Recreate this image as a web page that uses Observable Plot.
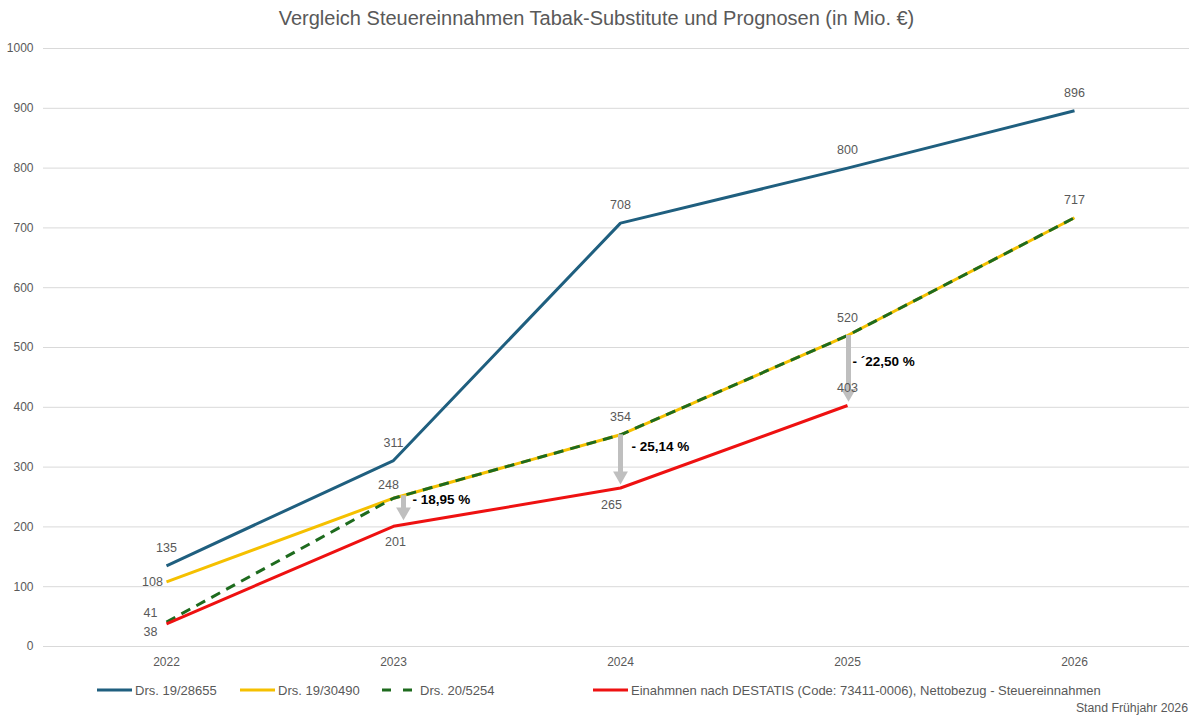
<!DOCTYPE html>
<html><head><meta charset="utf-8">
<script src="https://cdn.jsdelivr.net/npm/d3@7"></script>
<script src="https://cdn.jsdelivr.net/npm/@observablehq/plot@0.6"></script>
<style>
body{margin:0;background:#fff;font-family:"Liberation Sans",Arial,sans-serif;color:#595959;}
#title{height:36px;line-height:36px;text-align:center;font-size:20px;}
#legend{height:20px;display:flex;justify-content:flex-start;align-items:center;font-size:13px;padding-left:97px}
.item{display:flex;align-items:center;gap:3px}
#caption{height:16px;line-height:16px;text-align:right;padding-right:5px;font-size:12.3px}
</style></head><body>
<div id="title">Vergleich Steuereinnahmen Tabak-Substitute und Prognosen (in Mio. €)</div>
<div id="chart"></div>
<div id="legend"></div>
<div id="caption">Stand Frühjahr 2026</div>
<script>
// ---- data ----
const years = [2022, 2023, 2024, 2025, 2026];
const seriesNames = ["Drs. 19/28655", "Drs. 19/30490", "Drs. 20/5254",
  "Einahmnen nach DESTATIS (Code: 73411-0006), Nettobezug - Steuereinnahmen"];
const drs28655 = [135, 311, 708, 800, 896];
const drs30490 = [108, 248, 354, 520, 717];
const drs5254 = [41, 248, 354, 520, 717];
const destatis = [38, 201, 265, 403];
const yTicks = [0, 100, 200, 300, 400, 500, 600, 700, 800, 900, 1000];
const gapYears = [2023, 2024, 2025];
const gapFrom = [252, 354, 520];
const gapTo = [212, 272, 410];
const gapLabels = ["- 18,95 %", "- 25,14 %", "- ´22,50 %"];
const gapLabelValue = [246, 334, 477];

// ---- styles ----
const colors = ["#1F5F7F", "#F5C000", "#1E6B1E", "#EE1111"];
const dashes = [null, null, "10,7", null];
const legendWidths = [143, 142, 211, null];
const allValues = [drs28655, drs30490, drs5254, destatis];

const rows = [];
allValues.forEach((vals, s) => vals.forEach((v, i) => rows.push({series: s, year: years[i], value: v})));
const seriesRows = s => rows.filter(d => d.series === s);

// label placement (code, not data)
const place = {
  "0|2022": [0, -18], "0|2023": [0, -18], "0|2024": [0, -18], "0|2025": [0, -18], "0|2026": [0, -18],
  "1|2022": [-14, 0], "1|2023": [-5, -13], "1|2024": [0, -18], "1|2025": [0, -18], "1|2026": [0, -18],
  "2|2022": [-16, -9],
  "3|2022": [-16, 8], "3|2023": [2, 16], "3|2024": [-9, 17], "3|2025": [0, -18]
};
const labelRows = rows.filter(d => place[d.series + "|" + d.year]);
const labelMarks = labelRows.map(d => {
  const [dx, dy] = place[d.series + "|" + d.year];
  return Plot.text([d], {x: "year", y: "value", text: d => String(d.value), dx, dy,
    fill: "#595959", fontSize: 12.5});
});

const gapRows = gapYears.map((y, i) => ({year: y, from: gapFrom[i], to: gapTo[i], label: gapLabels[i], ly: gapLabelValue[i]}));
const arrowDx = {2023: 10, 2024: 0, 2025: 1};
const textDx = {2023: 19, 2024: 11, 2025: 5};
const arrowMarks = gapRows.flatMap(d => [
  Plot.ruleX([d], {x: "year", y1: "from", y2: "to", stroke: "#BFBFBF", strokeWidth: 5, dx: arrowDx[d.year], insetBottom: 8, strokeLinecap: "butt"}),
  Plot.dot([d], {x: "year", y: "to", symbol: "triangle", rotate: 180, r: 5.5, fill: "#BFBFBF", stroke: "none", dx: arrowDx[d.year], dy: -8}),
  Plot.text([d], {x: "year", y: "ly", text: "label", textAnchor: "start", dx: textDx[d.year], fill: "#000", fontWeight: "bold", fontSize: 13.5})
]);

const chart = Plot.plot({
  width: 1193, height: 644,
  marginLeft: 51, marginRight: 4, marginTop: 12, marginBottom: 34,
  style: {fontFamily: "'Liberation Sans', Arial, sans-serif", fontSize: "12px", color: "#595959", background: "#fff"},
  x: {type: "point", domain: years, padding: 0.5, label: null},
  y: {domain: [0, 1000], label: null},
  marks: [
    Plot.ruleY(yTicks, {stroke: "#D9D9D9", strokeWidth: 1, insetLeft: -8}),
    Plot.axisY(yTicks, {tickSize: 0, tickPadding: 18, tickFormat: d => String(d), fill: "#595959", fontSize: 12}),
    Plot.axisX(years, {tickSize: 0, tickPadding: 11, tickFormat: d => String(d), fill: "#595959", fontSize: 12}),
    ...[0, 1, 2, 3].map(s => Plot.line(seriesRows(s), {x: "year", y: "value", stroke: colors[s], strokeWidth: 3,
      strokeDasharray: dashes[s] ?? undefined, strokeLinejoin: "round", strokeLinecap: "butt"})),
    ...arrowMarks,
    ...labelMarks
  ]
});
document.getElementById("chart").append(chart);

// legend
const legend = document.getElementById("legend");
seriesNames.forEach((name, s) => {
  const item = document.createElement("div");
  item.className = "item";
  if (legendWidths[s]) item.style.width = legendWidths[s] + "px";
  const dash = dashes[s] ? `stroke-dasharray="9,12"` : "";
  item.innerHTML = `<svg width="35" height="6"><line x1="0" x2="35" y1="3" y2="3" stroke="${colors[s]}" stroke-width="3" ${dash}/></svg><span>${name}</span>`;
  legend.append(item);
});
</script>
</body></html>
